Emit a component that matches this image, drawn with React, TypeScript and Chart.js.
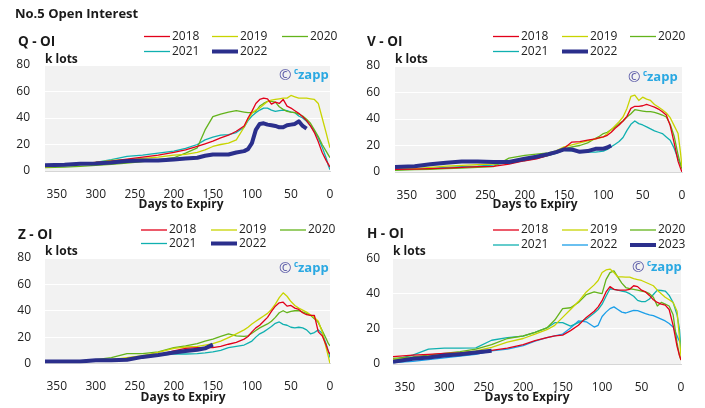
import React, { useEffect, useRef } from 'react';
import { Chart, registerables } from 'chart.js';
Chart.register(...registerables);

const FONT = "'Open Sans', 'Noto Sans', sans-serif";

const DAYS = [365, 340, 320, 300, 280, 260, 240, 220, 200, 185, 170, 160, 150, 140, 130, 120, 110, 105, 100, 95, 90, 85, 80, 75, 70, 65, 60, 55, 50, 45, 40, 35, 30, 25, 20, 15, 10, 5, 2, 0];
const X_TICKS = [0, 50, 100, 150, 200, 250, 300, 350];
const Y_TICKS_80 = [0, 20, 40, 60, 80];
const Y_TICKS_60 = [0, 20, 40, 60];

const YEARS_A = ['2018', '2019', '2020', '2021', '2022'];
const YEARS_H = ['2018', '2019', '2020', '2021', '2022', '2023'];

const C2018 = '#e2001a';
const C2019 = '#c8d400';
const C2020 = '#63b31b';
const C2021 = '#10b0b0';
const CNAVY = '#2b2f8c';
const CBLUE = '#1a9ee8';

// Q contract
const Q2018 = [3.5, 4.5, 5.5, 6.5, 7.5, 9, 10.5, 12, 14, 16, 18.5, 20.5, 22.5, 25, 27, 30, 34, 40, 45, 51, 54, 55, 54.5, 50.5, 52, 51, 54, 49, 47.5, 45.5, 43.5, 41, 38, 34, 29, 22, 14, 8, 5, 3];
const Q2019 = [3, 4, 5, 6.5, 8, 8.5, 9.5, 10.5, 12, 12.5, 14, 16, 18.5, 20, 21, 23.5, 33, 39, 43.5, 46, 47.5, 50, 52.5, 53.5, 54, 54.5, 55, 55, 57, 56, 55, 55, 55, 54.5, 54, 51, 40, 29, 22, 17.5];
const Q2020 = [2.5, 3, 3.5, 4.25, 5, 6, 7, 8.5, 10, 13.5, 17.5, 31, 41, 43, 44.5, 45.5, 44.5, 44, 44, 45, 49, 51, 52.5, 52.5, 52, 48.5, 46.5, 45, 44.5, 44, 43, 41.5, 39, 36, 31, 26, 20, 15, 12, 10];
const Q2021 = [3, 4, 5, 6.5, 8.5, 11, 12, 13.5, 15, 17, 20, 23.5, 25.5, 27, 27.5, 29, 33, 38, 41.5, 44, 46, 47.5, 47.5, 46, 45, 45.5, 46, 45.5, 44.5, 44, 41.5, 40, 37.5, 34, 30, 25, 18, 10, 4, 1];
const Q2022 = [4.25, 4.75, 5.5, 5.75, 6.5, 7.5, 8, 8, 8.75, 9.5, 10, 11.5, 12.5, 12.5, 12.5, 14, 15, 16.5, 21, 31, 35.5, 36, 35, 34.5, 34, 33, 33, 34.5, 35, 35.5, 37.5, 34, 32, null, null, null, null, null, null, null];

// V contract
const V2018 = [2, 2.2, 2.5, 3, 3.5, 4, 4.3, 6, 8.5, 10, 12.5, 14.5, 18, 22.6, 23, 24, 25, 26, 26.5, 27.7, 30, 33, 35.5, 38.5, 42, 48, 49.6, 49.6, 50, 51, 50, 49, 47.5, 45.5, 43, 35, 22, 8, 3, 0];
const V2019 = [2.5, 2.5, 3.5, 4.5, 5, 5.5, 6, 7.5, 9, 11, 13, 16, 19, 20.5, 22, 23.5, 25, 25.5, 26.5, 29, 32, 35, 38, 41.5, 48, 57, 58, 54, 56.5, 55, 54, 51, 49, 47, 44.5, 41, 35, 29, 15, 3.8];
const V2020 = [1.3, 1.8, 2, 2.5, 3, 3.5, 4, 10.5, 12.5, 13.5, 14.5, 16, 17.5, 19, 20, 22, 25.5, 27, 29, 30, 32, 34, 36.5, 38.5, 41.5, 44, 47, 46.5, 46, 45.5, 45.5, 45, 44, 43, 41.5, 36, 27, 13, 6, 2.5];
const V2021 = [1.8, 2.2, 2.8, 3.5, 4, 4.5, 5.3, 7, 8.5, 10.3, 12.3, 14, 16.4, 16, 15.5, 15, 15, 15.3, 15.8, 17, 19, 21, 23, 26, 31.4, 36, 38.5, 36.5, 35.5, 34, 32.5, 31, 30, 29, 26.5, 24, 18, 10, 6, 3.8];
const V2022 = [3.75, 4.3, 5.8, 7, 8, 8, 7.5, 7.5, 10, 11.5, 13.5, 15, 17, 17, 15.2, 15.8, 17.5, 17.5, 17.6, 18.5, 20, null, null, null, null, null, null, null, null, null, null, null, null, null, null, null, null, null, null, null];

// Z contract
const Z2018 = [1.5, 1.8, 2, 2.2, 2.5, 3.5, 5, 6.5, 9.5, 11.5, 12, 12, 12, 13, 14.6, 16, 18.5, 20.5, 24, 27, 29, 32, 35, 39.5, 43.5, 46, 46.5, 43.5, 44, 42, 41, 38.5, 37, 36.5, 36.5, 24, 21, 14, 9, 7];
const Z2019 = [1.5, 1.8, 2, 2.5, 3, 4.5, 6, 8.5, 11.5, 12.5, 13, 14, 15, 17, 19.6, 22.5, 25.5, 27.5, 30, 32, 34, 36, 38, 41, 45, 50, 53.6, 51, 47, 44, 42, 40.5, 39, 37, 35, 32, 24, 12, 5, 0];
const Z2020 = [1.5, 1.8, 2, 3, 4.5, 7.5, 7.5, 8.8, 12, 13.3, 15, 17, 18.5, 20.5, 22.5, 21, 20.5, 21, 23, 25, 27, 28.5, 30, 32, 35, 38.5, 40, 38.5, 39.5, 40, 40, 39, 38, 36.5, 34, 31, 25, 19, 15, 13.3];
const Z2021 = [1.5, 1.8, 2, 2.3, 2.8, 3.3, 4.5, 6, 7.3, 7.2, 7.5, 8, 8.8, 10, 12, 13, 14, 15.5, 17, 20, 22.5, 24, 26, 28, 30.5, 31.5, 29.7, 29, 27.5, 27, 27.5, 27, 25.5, 22.5, 23.5, 25.5, 23, 15, 9, 4.5];
const Z2022 = [1.5, 1.5, 1.5, 2.5, 2.5, 2.8, 5, 6.5, 8.3, 9.5, 10.5, 11.5, 14.3, null, null, null, null, null, null, null, null, null, null, null, null, null, null, null, null, null, null, null, null, null, null, null, null, null, null, null];

// H contract
const H2018 = [4.2, 5, 5.5, 6, 6.3, 7, 7.8, 9, 11, 13.3, 15, 16, 16.4, 19, 22, 26.5, 30, 32.5, 36, 41, 44, 42.5, 42, 42, 42, 42.5, 44.5, 44, 42, 41, 39, 36.5, 35, 34, 33.5, 31, 22, 10, 5, 2.3];
const H2019 = [2.6, 3.5, 4.5, 5.7, 6.5, 7.5, 9.5, 12.5, 14.5, 17, 19.5, 22, 26.5, 31, 35.5, 41, 45, 47.5, 52, 53.5, 54, 52, 49.5, 49.5, 49.4, 49.4, 48.5, 48, 47.5, 46.5, 45.5, 44.5, 42, 40, 38, 36.5, 35, 30, 15, 4];
const H2020 = [3.2, 4, 5, 6, 7, 8.5, 11, 14.5, 16, 18, 20.5, 25, 31.5, 32, 35, 39.5, 41, 40.5, 40, 48, 52, 53, 49.4, 46, 43.5, 42.8, 42.5, 42, 41.5, 41, 40, 38, 33, 35, 34, 33, 28, 12, 5, 2.3];
const H2021 = [2.3, 5, 8.5, 9, 9, 9.2, 13.5, 15, 15.8, 18, 20.5, 23.5, 23.5, 21.5, 23.5, 25.5, 29, 31, 34, 38.5, 42.8, 42.5, 42, 41.5, 41, 40, 38.5, 36.2, 35.5, 35.5, 37, 39.5, 42, 41.8, 41.5, 39, 35, 28, 20, 8];
const H2022 = [0.8, 1.5, 2.5, 3.5, 4.5, 5.5, 7.5, 8.5, 10.5, 13, 15, 16, 17, 20.5, 24.5, 24, 21, 22, 27, 29.5, 31.5, 32.5, 31, 29.5, 29, 29.8, 30.5, 30.3, 29.5, 28.7, 28, 27.5, 26.5, 25.5, 24.5, 23, 21, 16, 13, 11.7];
const H2023 = [1.3, 3, 3.7, 4.8, 5.6, 6.6, 7.5, null, null, null, null, null, null, null, null, null, null, null, null, null, null, null, null, null, null, null, null, null, null, null, null, null, null, null, null, null, null, null, null, null];

type Series = { label: string; values: (number | null)[]; color: string; width: number };

type PanelCfg = {
  title: string;
  titlePos: [number, number];
  plot: { l: number; t: number; r: number; b: number };
  yMax: number;
  yTicks: number[];
  yPad: number;
  series: Series[];
  legendCols: number[];
  legendRows: number[];
  kLots: [number, number];
  wm: [number, number];
  xTitle: [number, number];
  mainTitle?: string;
};

const THIN = 1.3;
const THICK = 4;

function mkSeries(years: string[], vals: (number | null)[][], colors: string[], widths: number[]): Series[] {
  return years.map((y, i) => ({ label: y, values: vals[i], color: colors[i], width: widths[i] }));
}

const PANELS: PanelCfg[] = [
  {
    title: 'Q - OI', titlePos: [18, 42], plot: { l: 45, t: 65, r: 330, b: 171 }, yMax: 80, yTicks: Y_TICKS_80, yPad: 15,
    series: mkSeries(YEARS_A, [Q2018, Q2019, Q2020, Q2021, Q2022], [C2018, C2019, C2020, C2021, CNAVY], [THIN, THIN, THIN, THIN, THICK]),
    legendCols: [144, 212, 282], legendRows: [36.5, 51.5], kLots: [45, 60], wm: [279, 75], xTitle: [181, 205],
    mainTitle: 'No.5 Open Interest',
  },
  {
    title: 'V - OI', titlePos: [367, 42], plot: { l: 395, t: 66, r: 682, b: 172 }, yMax: 80, yTicks: Y_TICKS_80, yPad: 15,
    series: mkSeries(YEARS_A, [V2018, V2019, V2020, V2021, V2022], [C2018, C2019, C2020, C2021, CNAVY], [THIN, THIN, THIN, THIN, THICK]),
    legendCols: [493, 562, 630], legendRows: [36.5, 51.5], kLots: [395, 60], wm: [628, 77], xTitle: [535, 205],
  },
  {
    title: 'Z - OI', titlePos: [18, 235], plot: { l: 45, t: 258, r: 330, b: 363.5 }, yMax: 80, yTicks: Y_TICKS_80, yPad: 14,
    series: mkSeries(YEARS_A, [Z2018, Z2019, Z2020, Z2021, Z2022], [C2018, C2019, C2020, C2021, CNAVY], [THIN, THIN, THIN, THIN, THICK]),
    legendCols: [141, 211, 280], legendRows: [230, 243.5], kLots: [45, 252], wm: [279, 268], xTitle: [183, 398],
  },
  {
    title: 'H - OI', titlePos: [367, 234], plot: { l: 393, t: 258.5, r: 681, b: 364 }, yMax: 60, yTicks: Y_TICKS_60, yPad: 13,
    series: mkSeries(YEARS_H, [H2018, H2019, H2020, H2021, H2022, H2023], [C2018, C2019, C2020, C2021, CBLUE, CNAVY], [THIN, THIN, THIN, THIN, THIN, THICK]),
    legendCols: [493, 562, 630], legendRows: [230, 245], kLots: [393, 252], wm: [632, 267], xTitle: [527, 398],
  },
];

function makePlugin(cfg: PanelCfg) {
  return {
    id: 'panelDecor',
    beforeDraw(chart: any) {
      const { ctx, chartArea } = chart;
      ctx.save();
      ctx.fillStyle = '#f2f2f2';
      ctx.fillRect(chartArea.left, chartArea.top, chartArea.right - chartArea.left, chartArea.bottom - chartArea.top);
      ctx.restore();
    },
    afterDraw(chart: any) {
      const ctx: CanvasRenderingContext2D = chart.ctx;
      ctx.save();
      ctx.textBaseline = 'middle';
      ctx.fillStyle = '#1a1a1a';
      if (cfg.mainTitle) {
        ctx.font = `bold 13px ${FONT}`;
        ctx.textAlign = 'left';
        ctx.fillText(cfg.mainTitle, 15, 14);
      }
      ctx.font = `bold 13.5px ${FONT}`;
      ctx.textAlign = 'left';
      ctx.fillText(cfg.title, cfg.titlePos[0], cfg.titlePos[1]);
      ctx.font = `bold 12px ${FONT}`;
      ctx.fillText('k lots', cfg.kLots[0], cfg.kLots[1]);
      ctx.textAlign = 'center';
      ctx.fillText('Days to Expiry', cfg.xTitle[0], cfg.xTitle[1]);

      // legend
      ctx.textAlign = 'left';
      ctx.font = `12px ${FONT}`;
      cfg.series.forEach((s, i) => {
        const col = i % 3;
        const row = Math.floor(i / 3);
        const x = cfg.legendCols[col];
        const y = cfg.legendRows[row];
        ctx.strokeStyle = s.color;
        ctx.lineWidth = s.width;
        ctx.beginPath();
        ctx.moveTo(x, y);
        ctx.lineTo(x + 26, y);
        ctx.stroke();
        ctx.fillStyle = '#222';
        ctx.fillText(s.label, x + 28, y);
      });

      // watermark
      const [wx, wy] = cfg.wm;
      ctx.fillStyle = '#5b5ba8';
      ctx.font = `15px ${FONT}`;
      ctx.fillText('\u00a9', wx, wy + 1);
      ctx.fillStyle = '#2aa8e2';
      ctx.font = `bold 8px ${FONT}`;
      ctx.fillText('c', wx + 15, wy - 3);
      ctx.font = `bold 13px ${FONT}`;
      ctx.fillText('zapp', wx + 19, wy);
      ctx.restore();
    },
  };
}

function Panel({ cfg }: { cfg: PanelCfg }) {
  const ref = useRef<HTMLCanvasElement>(null);
  useEffect(() => {
    const p = cfg.plot;
    const datasets = cfg.series.map((s, i) => ({
      label: s.label,
      data: DAYS.map((d, j) => ({ x: d, y: s.values[j] })),
      borderColor: s.color,
      backgroundColor: s.color,
      borderWidth: s.width,
      pointRadius: 0,
      tension: 0,
      spanGaps: false,
      fill: false,
      borderJoinStyle: 'round' as const,
      order: s.width > 2 ? 0 : i + 1,
    }));
    const tickFont = { family: FONT, size: 12 };
    const chart = new Chart(ref.current!, {
      type: 'line',
      data: { datasets },
      options: {
        responsive: false,
        animation: false,
        devicePixelRatio: 1,
        events: [],
        layout: { padding: { left: p.l - 40, top: p.t, right: 705 - p.r, bottom: 408 - p.b - 30 } },
        plugins: { legend: { display: false }, tooltip: { enabled: false }, title: { display: false } },
        scales: {
          x: {
            type: 'linear',
            reverse: true,
            min: 0,
            max: 365,
            afterFit: (s: any) => { s.height = 30; },
            afterBuildTicks: (s: any) => { s.ticks = X_TICKS.map((v) => ({ value: v })); },
            grid: { display: false },
            border: { display: true, color: '#d6d6d6', width: 1 },
            ticks: { padding: 8, color: '#222', font: tickFont, maxRotation: 0, autoSkip: false },
          },
          y: {
            type: 'linear',
            min: 0,
            max: cfg.yMax,
            afterFit: (s: any) => { s.width = 40; },
            afterBuildTicks: (s: any) => { s.ticks = cfg.yTicks.map((v) => ({ value: v })); },
            grid: { color: '#ffffff', lineWidth: 1, drawTicks: false },
            border: { display: false },
            ticks: { padding: cfg.yPad, color: '#222', font: tickFont },
          },
        },
      },
      plugins: [makePlugin(cfg)],
    } as any);
    return () => chart.destroy();
  }, [cfg]);
  return (
    <canvas
      ref={ref}
      width={705}
      height={408}
      style={{ position: 'absolute', left: 0, top: 0, width: 705, height: 408 }}
    />
  );
}

export default function App() {
  return (
    <div style={{ position: 'absolute', left: 0, top: 0, width: 705, height: 408, background: '#fff', overflow: 'hidden' }}>
      {PANELS.map((cfg, i) => (
        <Panel key={i} cfg={cfg} />
      ))}
    </div>
  );
}
